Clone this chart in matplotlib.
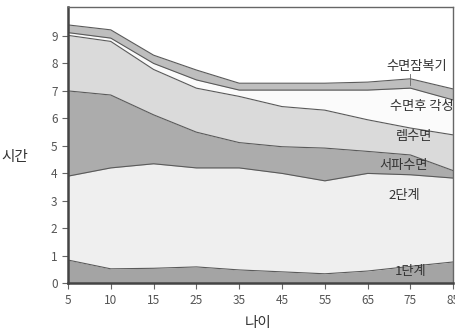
import numpy as np
import matplotlib.pyplot as plt

plt.rcParams['font.family'] = ['Noto Sans CJK KR', 'DejaVu Sans']

# age groups and cumulative sleep hours (top boundary of each stage)
ages = ['5', '10', '15', '25', '35', '45', '55', '65', '75', '85']
stage1_top = [0.85, 0.53, 0.55, 0.60, 0.49, 0.42, 0.35, 0.45, 0.62, 0.78]
stage2_top = [3.90, 4.20, 4.35, 4.20, 4.20, 4.00, 3.73, 4.00, 3.95, 3.83]
sws_top = [7.00, 6.85, 6.13, 5.50, 5.12, 4.97, 4.92, 4.80, 4.67, 4.10]
rem_top = [9.02, 8.80, 7.78, 7.10, 6.80, 6.43, 6.30, 5.95, 5.65, 5.40]
waso_top = [9.12, 8.92, 8.00, 7.40, 7.03, 7.03, 7.03, 7.03, 7.10, 6.67]
latency_top = [9.40, 9.22, 8.30, 7.76, 7.28, 7.28, 7.28, 7.32, 7.44, 7.07]

labels = ['1단계', '2단계', '서파수면', '렘수면', '수면후 각성', '수면잠복기']
colors = ['#a4a4a4', '#efefef', '#acacac', '#dadada', '#fbfbfb', '#bebebe']
label_pos = [(8.0, 0.42), (7.85, 3.2), (7.85, 4.3), (8.08, 5.33), (8.27, 6.42), (8.15, 7.9)]

tops = [stage1_top, stage2_top, sws_top, rem_top, waso_top, latency_top]
x = np.arange(len(ages))

fig = plt.figure(figsize=(4.56, 3.35), dpi=100)
ax = fig.add_axes([0.149, 0.154, 0.845, 0.825])

lower = np.zeros(len(ages))
for top, c in zip(tops, colors):
    top = np.array(top)
    ax.fill_between(x, lower, top, color=c, linewidth=0)
    ax.plot(x, top, color='#5a5a5a', linewidth=0.8)
    lower = top

for lab, (lx, ly) in zip(labels, label_pos):
    ax.text(lx, ly, lab, ha='center', va='center', fontsize=9.5, color='#333333')
# small leader tick under the latency label
ax.plot([8, 8], [7.22, 7.6], color='#666666', linewidth=0.6)

ax.set_xlim(0, 9)
ax.set_ylim(0, 10.05)
ax.set_xticks(x)
ax.set_xticklabels(ages)
ax.set_yticks(range(10))
ax.tick_params(colors='#666666', labelsize=8.5, length=4, width=0.8)
for t in ax.get_xticklabels() + ax.get_yticklabels():
    t.set_color('#555555')

for side in ['left', 'bottom']:
    ax.spines[side].set_linewidth(1.8)
    ax.spines[side].set_color('#444444')
for side in ['top', 'right']:
    ax.spines[side].set_linewidth(1.0)
    ax.spines[side].set_color('#666666')

fig.text(0.033, 0.53, '시간', fontsize=10.5, ha='center', va='center', color='#333333')
fig.text(0.566, 0.035, '나이', fontsize=10.5, ha='center', va='center', color='#333333')

fig.savefig('out.png', dpi=100)
